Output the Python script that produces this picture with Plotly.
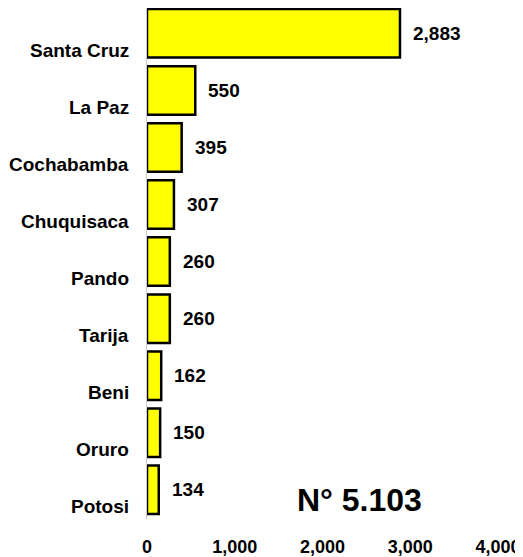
import plotly.graph_objects as go

categories = ["Santa Cruz", "La Paz", "Cochabamba", "Chuquisaca", "Pando", "Tarija", "Beni", "Oruro", "Potosi"]
values = [2883, 550, 395, 307, 260, 260, 162, 150, 134]
tick_vals = [0, 1000, 2000, 3000, 4000]
tick_text = ["0", "1,000", "2,000", "3,000", "4,000"]
stamp = "N° 5.103"

FONT = "Liberation Sans, Arial, sans-serif"

fig = go.Figure()
fig.add_trace(go.Bar(
    x=values, y=categories, orientation="h",
    marker=dict(color="#FFFF00", line=dict(color="black", width=2.5)),
    hoverinfo="skip",
))

annotations = []
for c, v in zip(categories, values):
    annotations.append(dict(x=v, y=c, xref="x", yref="y", text=f"<b>{v:,}</b>",
                            showarrow=False, xanchor="left", xshift=11,
                            font=dict(family=FONT, size=19, color="black")))
    annotations.append(dict(x=0, y=c, xref="paper", yref="y", text=f"<b>{c}</b>",
                            showarrow=False, xanchor="right", xshift=-16, yshift=-17,
                            font=dict(family=FONT, size=19, color="black")))
annotations.append(dict(x=0.605, y=0.037, xref="paper", yref="paper", text=f"<b>{stamp}</b>",
                        showarrow=False, xanchor="center", yanchor="middle",
                        font=dict(family=FONT, size=32, color="black")))

fig.update_layout(
    width=515, height=549,
    margin=dict(l=139, r=25, t=0, b=35),
    plot_bgcolor="white", paper_bgcolor="white",
    bargap=0.15, showlegend=False,
    annotations=annotations,
    xaxis=dict(range=[0, 4000], tickvals=tick_vals, ticktext=tick_text,
               showgrid=False, zeroline=False, showline=False,
               ticks="", ticklabelstandoff=15,
               tickfont=dict(family=FONT, size=18, color="black", weight="bold")),
    yaxis=dict(range=[8.511, -0.444], showticklabels=False, showgrid=False,
               zeroline=False, showline=True, linecolor="#cccccc", linewidth=1,
               ticks=""),
)

fig.write_html("out.html")
